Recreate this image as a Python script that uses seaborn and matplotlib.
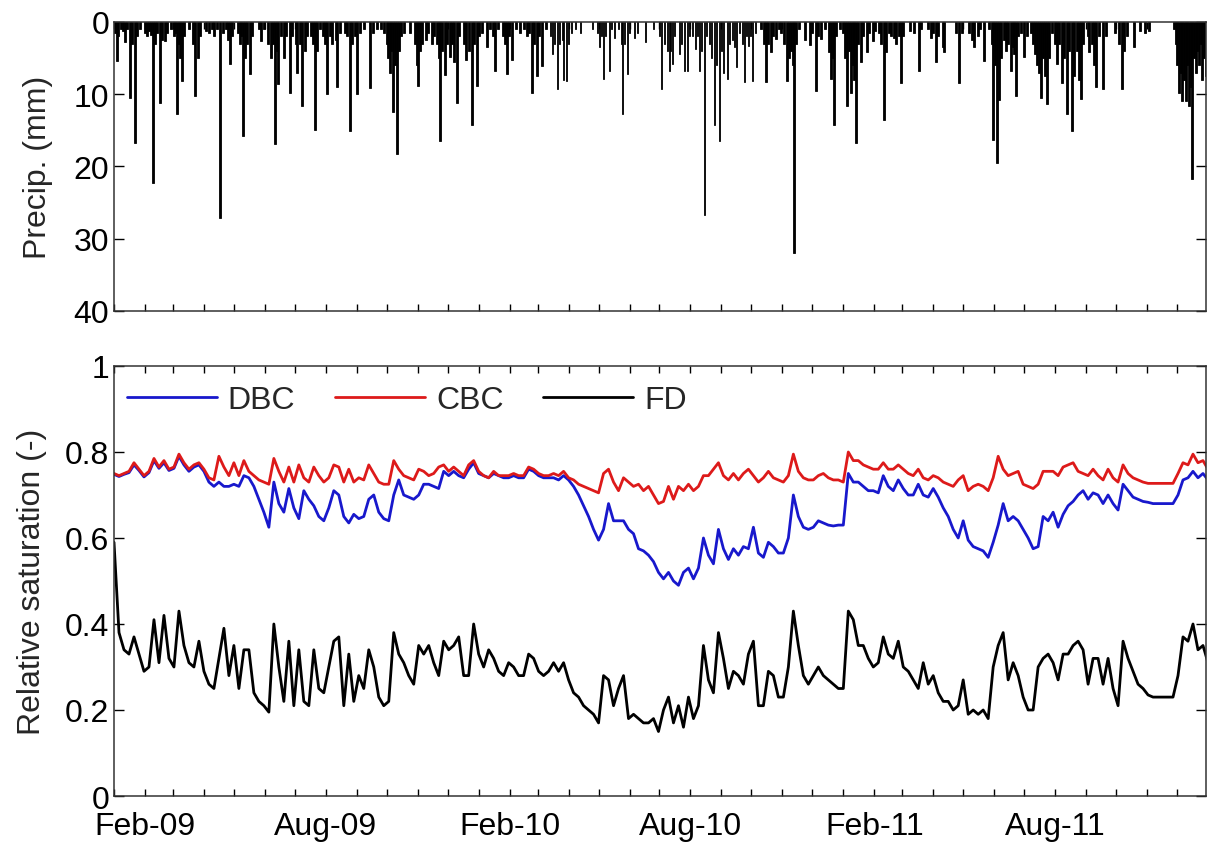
import numpy as np
import pandas as pd
import matplotlib
matplotlib.use('Agg')
import matplotlib.pyplot as plt
import matplotlib.dates as mdates
import matplotlib.ticker as mticker
import seaborn as sns

sns.set_style('ticks')
plt.rcParams['font.family'] = ['Liberation Sans', 'DejaVu Sans']

start = pd.Timestamp('2009-01-01')
# saturation read every 5 days from 1 Jan 2009
dates = pd.date_range(start, periods=220, freq='5D')

fd = [0.59, 0.38, 0.34, 0.33, 0.37, 0.33, 0.29, 0.30, 0.41, 0.31,
      0.42, 0.32, 0.30, 0.43, 0.35, 0.31, 0.30, 0.36, 0.29, 0.26,
      0.25, 0.32, 0.39, 0.28, 0.35, 0.25, 0.34, 0.34, 0.24, 0.22,
      0.21, 0.195, 0.40, 0.30, 0.22, 0.36, 0.21, 0.34, 0.22, 0.21,
      0.34, 0.25, 0.24, 0.30, 0.36, 0.37, 0.21, 0.33, 0.22, 0.28,
      0.25, 0.34, 0.30, 0.23, 0.21, 0.22, 0.38, 0.33, 0.31, 0.28,
      0.26, 0.35, 0.33, 0.35, 0.31, 0.28, 0.36, 0.34, 0.35, 0.37,
      0.28, 0.28, 0.40, 0.33, 0.30, 0.34, 0.32, 0.29, 0.28, 0.31,
      0.30, 0.28, 0.28, 0.33, 0.32, 0.29, 0.28, 0.29, 0.31, 0.29,
      0.31, 0.27, 0.24, 0.23, 0.21, 0.20, 0.19, 0.17, 0.28, 0.27,
      0.21, 0.25, 0.28, 0.18, 0.19, 0.18, 0.17, 0.17, 0.18, 0.15,
      0.20, 0.23, 0.17, 0.21, 0.16, 0.23, 0.18, 0.21, 0.35, 0.27,
      0.24, 0.38, 0.32, 0.25, 0.29, 0.28, 0.26, 0.33, 0.36, 0.21,
      0.21, 0.29, 0.28, 0.23, 0.23, 0.30, 0.43, 0.35, 0.28, 0.26,
      0.28, 0.30, 0.28, 0.27, 0.26, 0.25, 0.25, 0.43, 0.41, 0.35,
      0.35, 0.32, 0.30, 0.31, 0.37, 0.33, 0.32, 0.36, 0.30, 0.29,
      0.27, 0.25, 0.31, 0.26, 0.28, 0.24, 0.22, 0.22, 0.20, 0.21,
      0.27, 0.19, 0.20, 0.19, 0.20, 0.18, 0.30, 0.35, 0.38, 0.27,
      0.31, 0.28, 0.23, 0.20, 0.20, 0.30, 0.32, 0.33, 0.31, 0.27,
      0.33, 0.33, 0.35, 0.36, 0.34, 0.26, 0.32, 0.32, 0.26, 0.32,
      0.25, 0.21, 0.36, 0.32, 0.29, 0.26, 0.25, 0.235, 0.23, 0.23,
      0.23, 0.23, 0.23, 0.28, 0.37, 0.36, 0.40, 0.34, 0.35, 0.31]

cbc = [0.75, 0.745, 0.75, 0.755, 0.775, 0.76, 0.745, 0.755, 0.785, 0.765,
       0.78, 0.76, 0.765, 0.795, 0.775, 0.76, 0.77, 0.775, 0.76, 0.74,
       0.735, 0.79, 0.765, 0.745, 0.775, 0.745, 0.78, 0.755, 0.745, 0.735,
       0.73, 0.725, 0.785, 0.755, 0.73, 0.765, 0.73, 0.77, 0.74, 0.73,
       0.765, 0.745, 0.73, 0.74, 0.77, 0.765, 0.73, 0.76, 0.73, 0.74,
       0.735, 0.77, 0.75, 0.73, 0.725, 0.725, 0.78, 0.76, 0.745, 0.74,
       0.735, 0.76, 0.755, 0.745, 0.75, 0.765, 0.77, 0.755, 0.765, 0.755,
       0.745, 0.77, 0.78, 0.755, 0.745, 0.74, 0.755, 0.745, 0.745, 0.745,
       0.75, 0.745, 0.745, 0.765, 0.76, 0.75, 0.745, 0.745, 0.75, 0.745,
       0.755, 0.74, 0.735, 0.725, 0.72, 0.715, 0.71, 0.705, 0.75, 0.76,
       0.73, 0.71, 0.74, 0.73, 0.72, 0.725, 0.71, 0.72, 0.70, 0.68,
       0.685, 0.72, 0.69, 0.72, 0.71, 0.725, 0.71, 0.72, 0.745, 0.745,
       0.76, 0.775, 0.745, 0.735, 0.75, 0.735, 0.75, 0.76, 0.745, 0.73,
       0.74, 0.755, 0.74, 0.735, 0.73, 0.745, 0.795, 0.755, 0.74, 0.735,
       0.735, 0.745, 0.75, 0.74, 0.735, 0.735, 0.73, 0.80, 0.78, 0.78,
       0.77, 0.765, 0.76, 0.76, 0.775, 0.76, 0.76, 0.77, 0.76, 0.75,
       0.745, 0.76, 0.74, 0.735, 0.745, 0.74, 0.73, 0.725, 0.72, 0.735,
       0.745, 0.71, 0.72, 0.725, 0.72, 0.71, 0.74, 0.79, 0.76, 0.745,
       0.75, 0.755, 0.725, 0.72, 0.715, 0.725, 0.755, 0.755, 0.755, 0.745,
       0.765, 0.77, 0.775, 0.755, 0.75, 0.745, 0.76, 0.745, 0.735, 0.76,
       0.74, 0.73, 0.77, 0.75, 0.74, 0.735, 0.73, 0.727, 0.727, 0.727,
       0.727, 0.727, 0.727, 0.75, 0.775, 0.77, 0.795, 0.775, 0.78, 0.76]

dbc = [0.748, 0.743, 0.748, 0.752, 0.77, 0.757, 0.742, 0.752, 0.78, 0.762,
       0.775, 0.757, 0.762, 0.79, 0.77, 0.755, 0.765, 0.77, 0.755, 0.73,
       0.72, 0.73, 0.72, 0.72, 0.725, 0.72, 0.745, 0.74, 0.72, 0.69,
       0.66, 0.625, 0.73, 0.68, 0.66, 0.715, 0.67, 0.645, 0.71, 0.69,
       0.675, 0.65, 0.64, 0.67, 0.71, 0.70, 0.65, 0.635, 0.655, 0.645,
       0.65, 0.69, 0.70, 0.66, 0.645, 0.64, 0.70, 0.735, 0.70, 0.695,
       0.69, 0.70, 0.725, 0.725, 0.72, 0.715, 0.755, 0.745, 0.755, 0.745,
       0.74, 0.76, 0.775, 0.75, 0.745, 0.74, 0.75, 0.745, 0.74, 0.74,
       0.745, 0.74, 0.74, 0.76, 0.755, 0.745, 0.74, 0.74, 0.74, 0.735,
       0.745, 0.735, 0.72, 0.70, 0.675, 0.65, 0.62, 0.595, 0.62, 0.68,
       0.64, 0.64, 0.64, 0.62, 0.61, 0.575, 0.57, 0.56, 0.545, 0.52,
       0.505, 0.52, 0.50, 0.49, 0.52, 0.53, 0.505, 0.53, 0.60, 0.56,
       0.54, 0.62, 0.575, 0.55, 0.575, 0.56, 0.58, 0.575, 0.625, 0.565,
       0.555, 0.59, 0.58, 0.565, 0.565, 0.60, 0.70, 0.65, 0.625, 0.62,
       0.625, 0.64, 0.635, 0.63, 0.628, 0.63, 0.63, 0.75, 0.73, 0.73,
       0.72, 0.71, 0.71, 0.705, 0.745, 0.72, 0.71, 0.735, 0.715, 0.70,
       0.70, 0.725, 0.70, 0.695, 0.715, 0.695, 0.67, 0.65, 0.62, 0.60,
       0.64, 0.595, 0.58, 0.575, 0.57, 0.555, 0.59, 0.63, 0.68, 0.64,
       0.65, 0.64, 0.62, 0.60, 0.575, 0.58, 0.65, 0.64, 0.66, 0.625,
       0.655, 0.675, 0.685, 0.70, 0.71, 0.69, 0.705, 0.70, 0.68, 0.70,
       0.68, 0.665, 0.725, 0.71, 0.695, 0.69, 0.685, 0.683, 0.68, 0.68,
       0.68, 0.68, 0.68, 0.70, 0.735, 0.74, 0.755, 0.74, 0.75, 0.735]

# daily rainfall: day number after 1 Jan 2009 and depth in mm
rain_day = [1, 3, 4, 7, 9, 11, 13, 16, 18, 21,
            23, 26, 31, 33, 35, 37, 39, 41, 43, 46,
            48, 51, 53, 57, 60, 61, 63, 65, 66, 68,
            70, 75, 79, 81, 84, 86, 92, 95, 98, 100,
            103, 106, 109, 112, 114, 116, 118, 124, 126, 127,
            129, 131, 133, 136, 138, 145, 147, 150, 154, 157,
            159, 161, 163, 164, 167, 170, 172, 176, 178, 182,
            183, 186, 188, 191, 193, 197, 199, 201, 203, 206,
            209, 211, 213, 216, 218, 222, 223, 226, 231, 233,
            236, 238, 241, 243, 246, 250, 256, 259, 263, 267,
            270,
            273, 274, 276, 277, 279, 281, 283, 285, 287, 290,
            296, 301, 303, 304, 306, 308, 312, 314, 318, 320,
            323, 325, 326, 328, 331, 333, 336, 338, 340, 343,
            345, 350, 352, 355, 358, 360, 363, 365, 368, 373,
            376, 379, 381, 384, 389, 391, 393, 395, 398, 402,
            406, 410, 413, 415, 418, 420, 423, 425, 428, 432,
            437, 439, 441, 444, 446, 449, 450, 453, 455, 458,
            462, 467, 479, 484, 486, 488, 490, 492, 496, 498,
            501, 505, 508, 509, 511, 514, 516, 521, 524, 532,
            540, 546, 548, 551, 554,
            556, 557, 559, 561, 566, 568, 571, 574, 576, 579,
            582, 584, 586, 588, 591, 593, 596, 598, 601, 603,
            606, 608, 610, 614, 616, 619, 621, 623, 626, 629,
            631, 633, 635, 637, 639, 642, 648, 651, 653, 655,
            658, 660, 663, 666, 668, 671, 674, 676, 678, 680,
            681, 683, 686, 692, 697, 699, 703, 705, 708, 712,
            716, 718, 720, 721, 723, 727, 730, 732, 734, 736,
            738, 740, 741, 743, 745, 748, 750, 754, 756, 760,
            762, 766, 768, 771, 773, 776, 778, 781, 783, 786,
            788, 790, 797, 801, 806, 808, 815, 818, 820, 823,
            825, 830,
            831, 843, 846, 849, 856, 859, 861, 865, 867, 871,
            876, 879, 880, 882, 884, 886, 888, 891, 893, 895,
            898, 900, 901, 903, 905, 908, 911, 914, 918, 920,
            922, 924, 926, 928, 930, 932, 934, 936, 939, 942,
            944, 946, 949, 951, 954, 956, 959, 961, 964, 966,
            968, 970, 975, 976, 979, 981, 983, 986, 990, 993,
            1002, 1006, 1009, 1011, 1014, 1021, 1027, 1032, 1036, 1061,
            1063, 1064, 1066, 1068, 1069, 1071, 1073, 1074, 1076, 1078,
            1079, 1081, 1083, 1084, 1086, 1088, 1089, 1091, 1093]

rain_mm = [1.5, 5.4, 2, 1, 1.2, 2.8, 1, 10.5, 3, 16.7,
           2, 1, 1.5, 2, 1.2, 1.8, 22.3, 3, 1.5, 11.2,
           2.5, 2.6, 1.5, 1, 2, 1.5, 12.8, 3, 5, 8.1,
           2, 1, 3, 10.2, 5, 2, 1.2, 1.5, 1, 2,
           1, 27.1, 1.5, 1, 2.5, 5.8, 2, 1.5, 3, 2,
           15.8, 5, 3, 7.2, 2, 1, 2.6, 1, 3, 5,
           3, 16.9, 4, 8.6, 2, 5, 2, 9.8, 2, 3,
           7, 3, 11.6, 4, 2, 2, 3, 14.9, 4, 1,
           2, 3, 10, 2, 3, 2.5, 9, 1.5, 1.5, 2,
           15.1, 3, 2, 10, 1.5, 1, 9.1, 1.5, 1, 1,
           1.5,
           3, 5, 7, 4, 12.5, 6, 18.3, 4, 2, 1.5,
           1.5, 3, 6, 8.9, 4, 3, 2.5, 1.5, 3, 2,
           3, 5, 16.5, 4, 7.3, 3, 4.8, 3, 5.5, 11.2,
           2, 3, 5.3, 4, 14.2, 3, 8.9, 2, 1.5, 3.5,
           1, 2, 6.8, 1, 2, 3, 7.2, 2, 5.2, 1,
           1.5, 1, 2, 1.5, 9.8, 3, 7.5, 2, 6.1, 1,
           2, 4.5, 3, 9.3, 3, 2.5, 8, 8.1, 3, 1.5,
           1, 1.5, 1, 1.5, 3.5, 2, 7.9, 2, 6.8, 1,
           2.2, 1, 3, 12.8, 3, 7.2, 1.5, 2.2, 1.5, 2.8,
           1, 2, 9.3, 3, 4,
           6.8, 4, 5.8, 2, 4.5, 3, 6.8, 6.8, 2, 2,
           3.8, 2, 6.8, 4, 26.7, 2, 3, 5, 14.2, 6,
           16.5, 4, 7, 7.9, 3, 2.5, 3.5, 6.3, 1.5, 3,
           8.3, 2, 3.3, 2, 8.1, 1.5, 1, 3, 8.3, 3,
           4.2, 2, 2.4, 1, 1.5, 3, 8.1, 5, 4, 6,
           32, 3, 1, 2.5, 3.2, 1.5, 9.5, 2, 2.4, 1,
           4.2, 7.9, 5, 14.2, 2, 1, 1.5, 5, 11.6, 4,
           9.8, 6, 8, 16.7, 3, 5.6, 2, 4.2, 1.5, 2.6,
           1.2, 1.5, 3, 13.5, 4.2, 1.5, 2, 2.2, 3, 2,
           8.4, 2, 1.2, 1.5, 6.8, 1, 1, 2.2, 1.5, 5.6,
           2, 3.5,
           4.2, 1.5, 8.4, 1.5, 1.5, 2.5, 3.5, 2, 1, 5.4,
           1, 3, 16.3, 6, 19.5, 10.8, 5, 2.5, 4, 3,
           6.8, 3.5, 4.5, 10.2, 2, 1.5, 4.8, 2, 1.5, 3,
           4.5, 6, 7, 10.5, 5, 7.5, 11.4, 5, 1.5, 3,
           5.8, 3, 8.4, 5, 12.8, 4, 15.1, 7.5, 4, 8,
           10.7, 3, 2, 4.2, 3, 6, 9, 2, 9.3, 2,
           1.5, 3, 9.3, 4, 2, 3.5, 1.2, 1.5, 1.2, 1,
           3, 6, 9.8, 7, 10.9, 8, 11, 6, 11.6, 9,
           21.8, 5, 7, 4, 6, 3, 8, 5, 7.5]

series_names = ['DBC', 'CBC', 'FD']
colors = {'DBC': '#1818cc', 'CBC': '#dd1a1a', 'FD': 'black'}

sat = pd.concat([
    pd.DataFrame({'date': dates, 'value': dbc, 'series': 'DBC'}),
    pd.DataFrame({'date': dates, 'value': cbc, 'series': 'CBC'}),
    pd.DataFrame({'date': dates, 'value': fd, 'series': 'FD'}),
])
rain_dates = start + pd.to_timedelta(rain_day, unit='D')

fig = plt.figure(figsize=(12.09, 8.45), dpi=100)
ax1 = fig.add_axes([0.0943, 0.6308, 0.9032, 0.3420])
ax2 = fig.add_axes([0.0943, 0.0568, 0.9032, 0.5089])

ax1.bar(rain_dates, rain_mm, width=1.8, color='black', edgecolor='black', linewidth=0.6)
ax1.set_ylim(40, 0)
ax1.set_yticks([0, 10, 20, 30, 40])

sns.lineplot(data=sat, x='date', y='value', hue='series', hue_order=series_names,
             palette=colors, linewidth=2, errorbar=None, ax=ax2)
ax2.set_ylim(0, 1)
ax2.set_yticks([0, 0.2, 0.4, 0.6, 0.8, 1])
ax2.yaxis.set_major_formatter(mticker.FixedFormatter(['0', '0.2', '0.4', '0.6', '0.8', '1']))


def month_label(x, pos):
    d = mdates.num2date(x)
    return d.strftime('%b-%y') if d.month in (2, 8) else ''


x0 = pd.Timestamp('2009-01-01')
x1 = pd.Timestamp('2011-12-30')
for ax in (ax1, ax2):
    ax.set_xlim(x0, x1)
    ax.xaxis.set_major_locator(mdates.MonthLocator())
    ax.xaxis.set_major_formatter(mticker.FuncFormatter(month_label))
    ax.tick_params(direction='in', top=True, right=True, length=5, width=1,
                   labelsize=23, colors='black')
    ax.tick_params(axis='y', length=7)
    for s in ax.spines.values():
        s.set_linewidth(1.1)
        s.set_color('#333333')
    ax.set_xlabel('')
ax1.tick_params(labelbottom=False)
ax2.tick_params(axis='x', pad=11)

ax1.set_ylabel('Precip. (mm)', fontsize=23)
ax2.set_ylabel('Relative saturation (-)', fontsize=23)
ax1.yaxis.set_label_coords(-0.056, 0.5)
ax2.yaxis.set_label_coords(-0.061, 0.5)

sns.move_legend(ax2, 'upper left', bbox_to_anchor=(0.012, 0.955), ncol=3, title=None,
                frameon=False, fontsize=23, handlelength=2.8, handletextpad=0.35,
                columnspacing=1.25, borderaxespad=0, borderpad=0)
for h in ax2.get_legend().get_lines():
    h.set_linewidth(2)

fig.savefig('out.png', dpi=100)
